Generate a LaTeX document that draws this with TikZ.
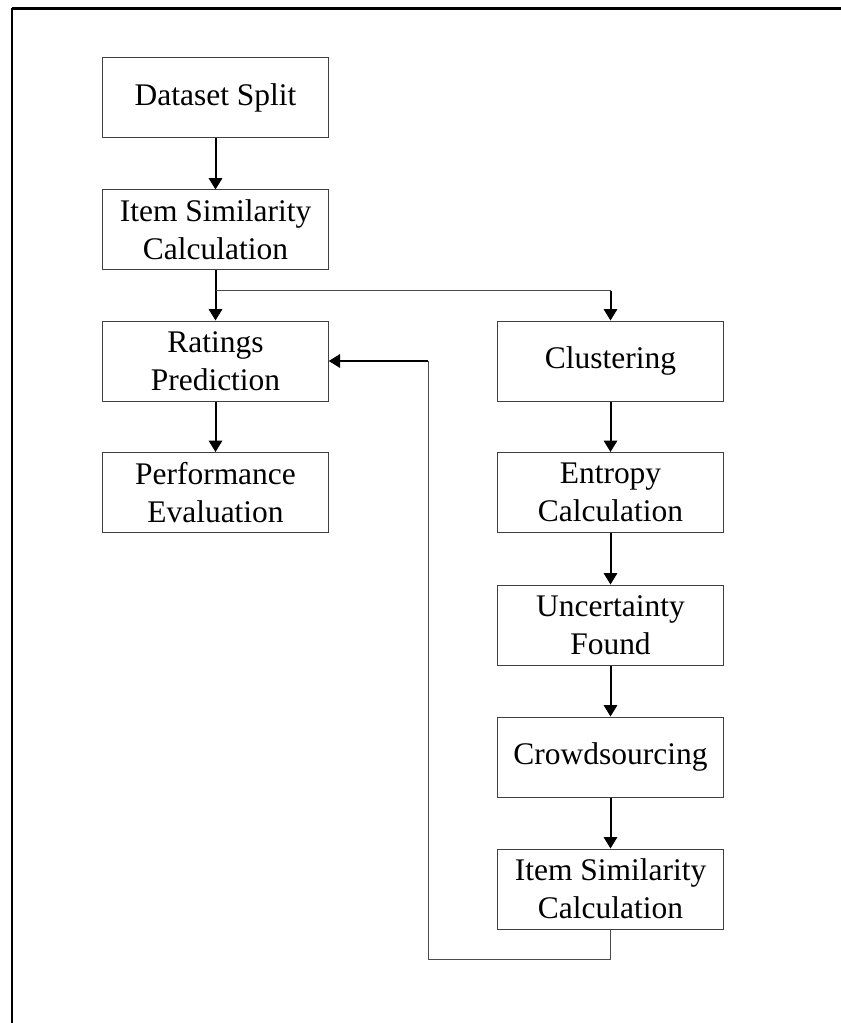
\documentclass[tikz,border=0pt]{standalone}
\usepackage{fontspec}
\setmainfont{Liberation Serif}
\usetikzlibrary{arrows.meta}

\tikzset{
  stagebox/.style={draw=black!75, line width=0.75pt, minimum width=169pt, minimum height=60pt,
    inner sep=0pt, align=center, font=\fontsize{23.6}{28.5}\selectfont},
  flowarrow/.style={line width=1.5pt, -{Triangle[width=10pt,length=8.5pt]}},
  thinline/.style={draw=black!70, line width=0.75pt}
}

\begin{document}
\begin{tikzpicture}[x=0.75pt,y=0.75pt,yscale=-1,xscale=1]
\useasboundingbox (0,0) rectangle (841,1023);

% frame
\draw [line width=2.2pt] (12,8.5) -- (841,8.5);
\draw [line width=1.1pt] (12,8.5) -- (12,1023);

% left column
\node [stagebox] (split) at (215.5,98) {Dataset Split};
\node [stagebox] (simA) at (215.5,230) {Item Similarity\\Calculation};
\node [stagebox] (rating) at (215.5,361) {Ratings\\Prediction};
\node [stagebox] (perf) at (215.5,492.5) {Performance\\Evaluation};

% right column
\node [stagebox] (cluster) at (610.5,361) {Clustering};
\node [stagebox] (entropy) at (610.5,492.5) {Entropy\\Calculation};
\node [stagebox] (uncert) at (610.5,625) {Uncertainty\\Found};
\node [stagebox] (crowd) at (610.5,757) {Crowdsourcing};
\node [stagebox] (simB) at (610.5,889) {Item Similarity\\Calculation};

% main flow
\draw [flowarrow] (split) -- (simA);
\draw [flowarrow] (simA) -- (rating);
\draw [flowarrow] (rating) -- (perf);
\draw [flowarrow] (cluster) -- (entropy);
\draw [flowarrow] (entropy) -- (uncert);
\draw [flowarrow] (uncert) -- (crowd);
\draw [flowarrow] (crowd) -- (simB);

% branch to clustering
\coordinate (fork) at (215.5,291);
\coordinate (forkR) at (cluster.north |- fork);
\draw [thinline] (fork) -- (forkR);
\draw [flowarrow] (forkR) -- (cluster);

% feedback loop
\coordinate (loopB) at (428,959);
\coordinate (loopT) at (loopB |- rating.east);
\draw [thinline] (simB.south) |- (loopB) -- (loopT);
\draw [flowarrow] (loopT) -- (rating);
\end{tikzpicture}
\end{document}
